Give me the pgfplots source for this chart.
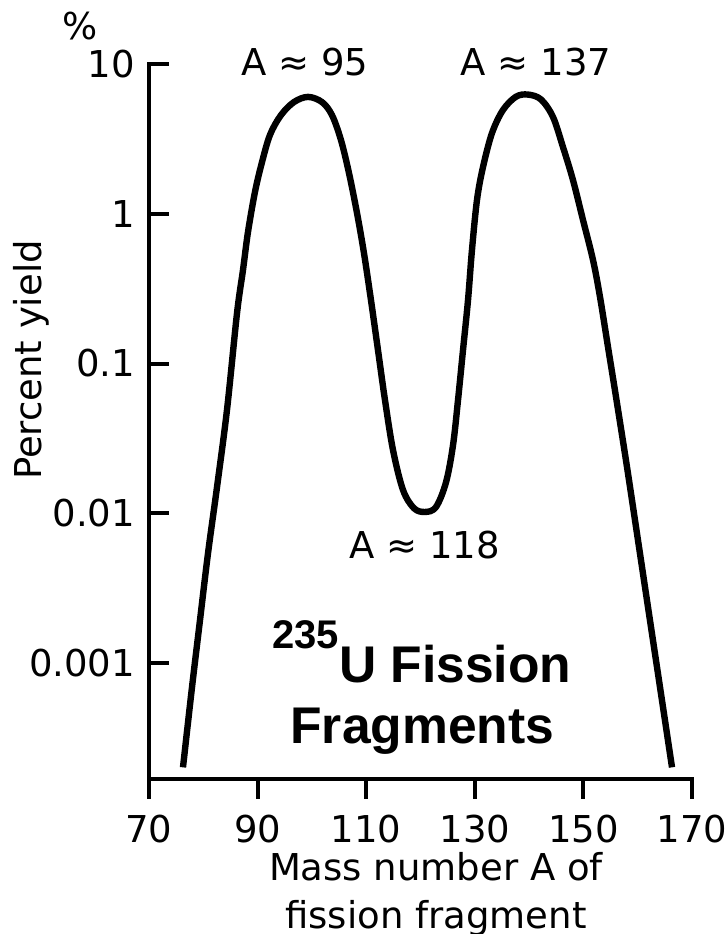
\documentclass[border=0pt]{standalone}
\usepackage{fontspec}
\setmainfont{DejaVu Sans}
\newfontfamily\titlefont{Liberation Sans}
\usepackage{pgfplots}
\pgfplotsset{compat=1.18}
\begin{document}
\begin{tikzpicture}
\path[use as bounding box] (-74.5pt,-77.5pt) rectangle (288pt,389.5pt);
\begin{axis}[
  at={(0pt,0pt)}, anchor=south west,
  scale only axis, width=271.5pt, height=357.5pt,
  xmin=70, xmax=170, ymode=log, ymin=1.68e-4, ymax=10,
  axis x line*=bottom, axis y line*=left,
  axis line style={-, line width=2pt, line cap=rect},
  xtick={70,90,110,130,150,170},
  xticklabels={70,90,110,130,150,170},
  ytick={0.001,0.01,0.1,1,10},
  yticklabels={0.001,0.01,0.1,1,10},
  yminorticks=false, xminorticks=false,
  major tick length=10pt,
  every tick/.style={black, line width=2pt},
  x tick style={black, line width=2pt},
  y tick style={black, line width=2pt},
  xtick align=outside, ytick align=inside,
  tick label style={font=\fontsize{18.5}{20}\selectfont},
  yticklabel style={xshift=-3.5pt},
  xticklabel style={yshift=-4.5pt},
  clip=false,
]
\addplot[black, line width=3.2pt, smooth, tension=0.55, line join=round, line cap=butt] coordinates {
(76.26,2.01e-4) (77.92,6.89e-4) (79.39,1.93e-3) (80.87,5.41e-3) (82.52,1.49e-2)
(84.36,4.89e-2) (86.21,0.217) (87.31,0.421) (88.23,0.755)
(89.52,1.40) (90.81,2.21) (92.28,3.36) (94.31,4.56) (96.70,5.57) (99.28,6.03)
(101.86,5.57) (103.70,4.56) (105.36,3.10) (106.83,1.87) (108.31,1.01)
(109.59,0.546) (110.88,0.265) (112.17,0.123) (113.46,0.0570) (114.94,0.0264)
(116.78,0.0143) (118.80,0.0108) (120.83,0.0102) (122.85,0.0110) (124.70,0.0161)
(125.99,0.0285) (126.91,0.0570) (127.83,0.123) (128.75,0.265) (129.48,0.573)
(130.41,1.24) (131.51,2.05) (133.17,3.46) (135.19,4.93) (137.59,6.05)
(139.80,6.25) (142.19,5.80) (144.40,4.43) (146.24,2.79) (148.08,1.68)
(149.93,0.908) (151.77,0.491) (153.06,0.278) (154.53,0.129) (156.0,0.060)
(158.0,0.0207) (160.0,6.81e-3) (162.0,2.23e-3) (164.0,7.33e-4) (166.32,2.01e-4)
};
\node[font=\fontsize{18.5}{20}\selectfont, anchor=base] at (rel axis cs:0.2873,0.9846) {A ≈ 95};
\node[font=\fontsize{18.5}{20}\selectfont, anchor=base] at (rel axis cs:0.7127,0.9846) {A ≈ 137};
\node[font=\fontsize{18.5}{20}\selectfont, anchor=base] at (rel axis cs:0.508,0.309) {A ≈ 118};
\node[font=\titlefont\bfseries\fontsize{25.8}{28}\selectfont, anchor=base west, inner sep=0pt] at (rel axis cs:0.2265,0.1343) {\raisebox{17pt}{\fontsize{20}{20}\selectfont 235}U Fission};
\node[font=\titlefont\bfseries\fontsize{25.8}{28}\selectfont, anchor=base west, inner sep=0pt] at (rel axis cs:0.2597,0.049) {Fragments};
\node[font=\fontsize{18.5}{20}\selectfont, rotate=90, anchor=center] at (rel axis cs:-0.2173,0.586) {Percent yield};
\node[font=\fontsize{18.5}{20}\selectfont, anchor=center] at (rel axis cs:-0.127,1.053) {\%};
\node[font=\fontsize{18.5}{20}\selectfont, anchor=base] at (rel axis cs:0.5285,-0.1413) {Mass number A of};
\node[font=\fontsize{18.5}{20}\selectfont, anchor=base] at (rel axis cs:0.5285,-0.2084) {fission fragment};
\end{axis}
\end{tikzpicture}
\end{document}
